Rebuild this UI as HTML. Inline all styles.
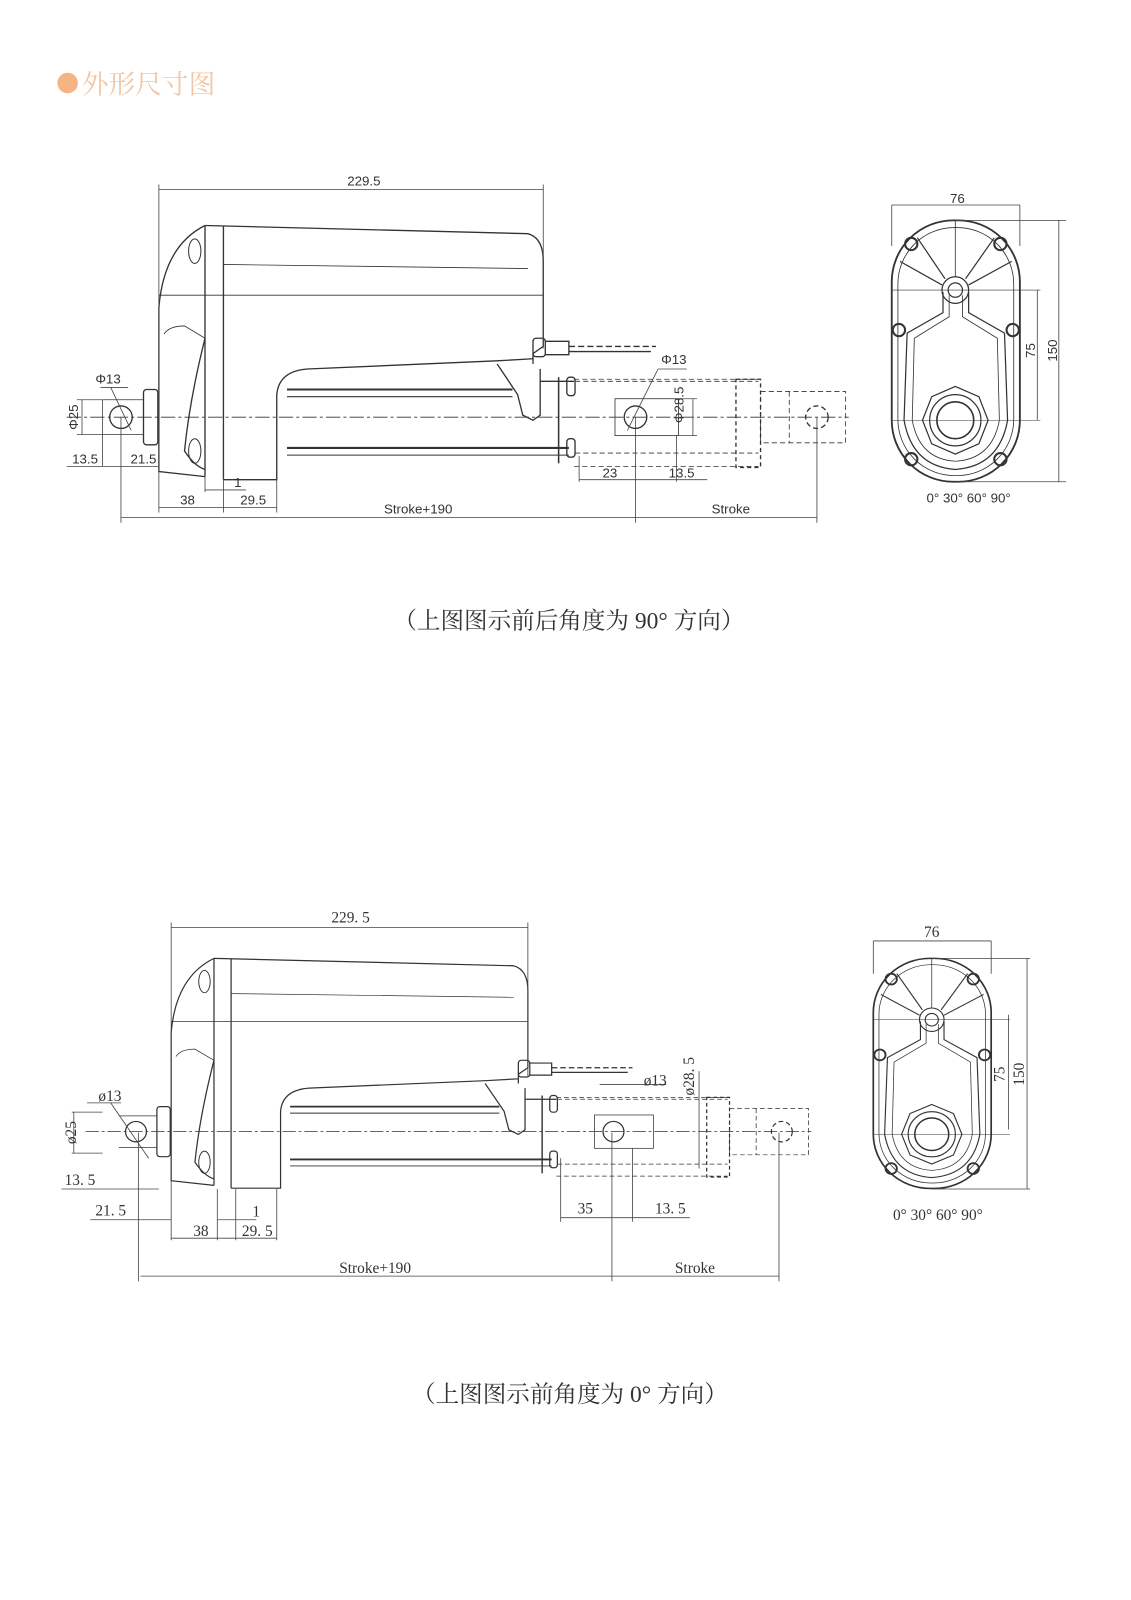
<!DOCTYPE html>
<html><head><meta charset="utf-8"><style>
html,body{margin:0;padding:0;background:#fff;}
body{width:1131px;height:1600px;overflow:hidden;position:relative;}
svg{position:absolute;left:0;top:0;}
.s{font-family:"Liberation Sans",sans-serif;font-size:13px;fill:#333;}
.r{font-family:"Liberation Serif",serif;font-size:15px;fill:#333;}
.cap{font-family:"Liberation Serif","Noto Serif CJK SC",serif;font-size:23px;fill:#333;}
</style></head><body>
<svg width="1131" height="1600" viewBox="0 0 1131 1600" xmlns="http://www.w3.org/2000/svg">
<defs>
<g id="side" fill="none" stroke="#333" stroke-width="1.3">
  <path d="M200,220 L515,228 Q530,232 530,255 L530,338 L520,345 L520,355" />
  <path d="M200,220 Q160,240 155,300 L155,460 L200,465" />
  <line x1="200" y1="220" x2="200" y2="465"/>
  <line x1="218" y1="220" x2="218" y2="468"/>
  <line x1="155" y1="288" x2="530" y2="288" stroke-width="0.8"/>
  <line x1="218" y1="258" x2="515" y2="262" stroke-width="0.8"/>
  <path d="M200,330 L180,318 Q165,318 160,326" stroke-width="0.8"/>
  <path d="M200,330 Q185,390 180,440 Q190,455 200,458"/>
  <ellipse cx="190" cy="245" rx="6" ry="12" stroke-width="1"/>
  <ellipse cx="190" cy="440" rx="6" ry="12" stroke-width="1"/>
  <path d="M218,468 L270,468 L270,385 Q272,362 300,360 L485,352 L520,350"/>
  <path d="M485,355 L505,385 L510,405 L520,410 L527,405 L527,360"/>
  <line x1="280" y1="380" x2="500" y2="380" stroke-width="2"/>
  <line x1="280" y1="387" x2="500" y2="387" stroke-width="1"/>
  <line x1="280" y1="437" x2="555" y2="437" stroke-width="2"/>
  <line x1="280" y1="444" x2="555" y2="444" stroke-width="1"/>
  <line x1="527" y1="372" x2="560" y2="372"/>
  <line x1="545" y1="368" x2="545" y2="452" stroke-width="1.5"/>
  <rect x="553" y="368" width="8" height="18" rx="3"/>
  <rect x="553" y="428" width="8" height="18" rx="3"/>
  <rect x="520" y="330" width="12" height="18" rx="3"/>
  <path d="M532,333 L555,333 L555,346 L532,346"/>
  <line x1="555" y1="338" x2="640" y2="338" stroke-dasharray="6,3"/>
  <line x1="555" y1="343" x2="635" y2="343"/>
  <rect x="140" y="380" width="14" height="54" rx="3"/>
  <line x1="100" y1="390" x2="140" y2="390" stroke-width="0.8"/>
  <line x1="100" y1="424" x2="140" y2="424" stroke-width="0.8"/>
  <circle cx="118" cy="407" r="11"/>
  <path d="M561,372 L740,372 M561,442 L740,442 M560,455 L740,455 M560,370 L740,370" stroke-dasharray="5,3" stroke-width="0.8"/>
  <rect x="600" y="389" width="62" height="36" stroke-width="0.8"/>
  <circle cx="620" cy="407" r="11"/>
  <rect x="718" y="370" width="24" height="86" stroke-dasharray="4,3"/>
  <rect x="742" y="382" width="83" height="50" stroke-dasharray="5,3" stroke-width="0.8"/>
  <line x1="770" y1="382" x2="770" y2="432" stroke-dasharray="5,3" stroke-width="0.8"/>
  <circle cx="797" cy="407" r="11" stroke-dasharray="5,3"/>
  <line x1="65" y1="407" x2="828" y2="407" stroke-dasharray="14,3,3,3" stroke-width="0.8"/>
</g>
<g id="end" fill="none" stroke="#333" stroke-width="1.2">
  <rect x="870" y="215" width="125" height="255" rx="60" ry="60" stroke-width="1.8"/>
  <rect x="876" y="222" width="113" height="242" rx="55" ry="55" stroke-width="0.8"/>
  <path d="M920,285 L920,305 L885,325 L882,410 Q890,455 932,458 Q975,455 983,410 L980,325 L945,305 L945,285" />
  <path d="M926,288 L926,309 L892,330 L890,410 Q897,448 932,450 Q968,448 975,410 L973,330 L939,309 L939,288" stroke-width="0.8"/>
  <circle cx="932" cy="283" r="13"/>
  <circle cx="932" cy="283" r="7"/>
  <line x1="932" y1="215" x2="932" y2="270" stroke-width="0.8"/>
  <line x1="922" y1="272" x2="895" y2="232"/><line x1="942" y1="272" x2="970" y2="232"/>
  <line x1="919" y1="278" x2="878" y2="255"/><line x1="945" y1="278" x2="987" y2="255"/>
  <circle cx="889" cy="238" r="6" stroke-width="2"/><circle cx="976" cy="238" r="6" stroke-width="2"/>
  <circle cx="877" cy="322" r="6" stroke-width="2"/><circle cx="988" cy="322" r="6" stroke-width="2"/>
  <circle cx="889" cy="448" r="6" stroke-width="2"/><circle cx="976" cy="448" r="6" stroke-width="2"/>
  <polygon points="932,377 955,387 964,410 955,433 932,443 909,433 900,410 909,387"/>
  <circle cx="932" cy="410" r="25"/>
  <circle cx="932" cy="410" r="18" stroke-width="1.6"/>
  <line x1="870" y1="283" x2="1015" y2="283" stroke-width="0.6"/>
  <line x1="870" y1="410" x2="1015" y2="410" stroke-width="0.6"/>
</g>
</defs>
<g transform="scale(1.025)">
<circle cx="66" cy="81" r="10" fill="#f6b483"/>
<text x="80" y="91" font-family="Liberation Serif,'Noto Serif CJK SC',serif" font-size="26" fill="#f2c6a4">外形尺寸图</text>

<use href="#side"/>
<use href="#end"/>
<g fill="none" stroke="#444" stroke-width="0.8">
  <line x1="155" y1="185" x2="530" y2="185"/>
  <line x1="155" y1="180" x2="155" y2="500"/>
  <line x1="530" y1="180" x2="530" y2="340"/>
  <line x1="100" y1="390" x2="100" y2="455"/>
  <line x1="118" y1="407" x2="118" y2="510"/>
  <line x1="218" y1="465" x2="218" y2="500"/>
  <line x1="200" y1="465" x2="200" y2="480"/>
  <line x1="270" y1="468" x2="270" y2="500"/>
  <line x1="65" y1="455" x2="155" y2="455"/>
  <line x1="155" y1="495" x2="270" y2="495"/>
  <line x1="200" y1="478" x2="240" y2="478"/>
  <line x1="118" y1="505" x2="797" y2="505"/>
  <line x1="620" y1="407" x2="620" y2="510"/>
  <line x1="797" y1="407" x2="797" y2="510"/>
  <line x1="565" y1="445" x2="565" y2="470"/>
  <line x1="660" y1="425" x2="660" y2="470"/>
  <line x1="565" y1="468" x2="690" y2="468"/>
  <line x1="75" y1="390" x2="100" y2="390"/><line x1="75" y1="424" x2="100" y2="424"/>
  <line x1="80" y1="390" x2="80" y2="424"/>
  <line x1="98" y1="378" x2="125" y2="378"/><line x1="108" y1="378" x2="128" y2="420"/>
  <line x1="642" y1="360" x2="670" y2="360"/><line x1="642" y1="360" x2="612" y2="420"/>
  <line x1="676" y1="389" x2="676" y2="425"/>
  <line x1="660" y1="389" x2="680" y2="389"/><line x1="660" y1="425" x2="680" y2="425"/>
  <line x1="870" y1="200" x2="995" y2="200"/>
  <line x1="870" y1="200" x2="870" y2="240"/><line x1="995" y1="200" x2="995" y2="240"/>
  <line x1="932" y1="215" x2="1040" y2="215"/><line x1="932" y1="470" x2="1040" y2="470"/>
  <line x1="1033" y1="215" x2="1033" y2="470"/>
  <line x1="1012" y1="283" x2="1012" y2="410"/>
</g>
<g class="s">
  <text x="355" y="181" text-anchor="middle">229.5</text>
  <text x="93" y="374">Φ13</text>
  <text x="76" y="407" transform="rotate(-90 76 407)" text-anchor="middle">Φ25</text>
  <text x="83" y="452" text-anchor="middle">13.5</text>
  <text x="140" y="452" text-anchor="middle">21.5</text>
  <text x="232" y="475" text-anchor="middle">1</text>
  <text x="183" y="492" text-anchor="middle">38</text>
  <text x="247" y="492" text-anchor="middle">29.5</text>
  <text x="408" y="501" text-anchor="middle">Stroke+190</text>
  <text x="713" y="501" text-anchor="middle">Stroke</text>
  <text x="595" y="466" text-anchor="middle">23</text>
  <text x="665" y="466" text-anchor="middle">13.5</text>
  <text x="645" y="355">Φ13</text>
  <text x="667" y="395" transform="rotate(-90 667 395)" text-anchor="middle">Φ28.5</text>
  <text x="934" y="198" text-anchor="middle">76</text>
  <text x="1010" y="342" transform="rotate(-90 1010 342)" text-anchor="middle">75</text>
  <text x="1031" y="342" transform="rotate(-90 1031 342)" text-anchor="middle">150</text>
  <text x="945" y="490" text-anchor="middle">0°  30°  60°  90°</text>
</g>
<text class="cap" x="555" y="613" text-anchor="middle">（上图图示前后角度为 90° 方向）</text>

<use href="#side" transform="translate(167,935) scale(0.928,0.904) translate(-155,-220)"/>
<use href="#end" transform="translate(852,935) scale(0.92,0.88) translate(-870,-215)"/>
<g fill="none" stroke="#444" stroke-width="0.8">
  <line x1="167" y1="905" x2="515" y2="905"/>
  <line x1="167" y1="900" x2="167" y2="1210"/>
  <line x1="515" y1="900" x2="515" y2="1050"/>
  <line x1="60" y1="1160" x2="155" y2="1160"/>
  <line x1="88" y1="1190" x2="167" y2="1190"/>
  <line x1="135" y1="1105" x2="135" y2="1250"/>
  <line x1="212" y1="1160" x2="212" y2="1210"/>
  <line x1="230" y1="1160" x2="230" y2="1210"/>
  <line x1="167" y1="1208" x2="270" y2="1208"/>
  <line x1="212" y1="1190" x2="250" y2="1190"/>
  <line x1="270" y1="1160" x2="270" y2="1210"/>
  <line x1="137" y1="1245" x2="760" y2="1245"/>
  <line x1="597" y1="1105" x2="597" y2="1250"/>
  <line x1="760" y1="1105" x2="760" y2="1250"/>
  <line x1="547" y1="1130" x2="547" y2="1192"/>
  <line x1="617" y1="1120" x2="617" y2="1192"/>
  <line x1="547" y1="1188" x2="673" y2="1188"/>
  <line x1="85" y1="1076" x2="118" y2="1076"/><line x1="108" y1="1076" x2="145" y2="1130"/>
  <line x1="70" y1="1085" x2="100" y2="1085"/><line x1="70" y1="1125" x2="100" y2="1125"/>
  <line x1="72" y1="1085" x2="72" y2="1125"/>
  <line x1="585" y1="1058" x2="650" y2="1058"/>
  <line x1="682" y1="1045" x2="682" y2="1140"/>
  <line x1="852" y1="918" x2="967" y2="918"/>
  <line x1="852" y1="918" x2="852" y2="950"/><line x1="967" y1="918" x2="967" y2="950"/>
  <line x1="909" y1="935" x2="1005" y2="935"/><line x1="909" y1="1160" x2="1005" y2="1160"/>
  <line x1="1002" y1="935" x2="1002" y2="1160"/>
  <line x1="984" y1="990" x2="984" y2="1102"/>
</g>
<g class="r">
  <text x="342" y="900" text-anchor="middle">229. 5</text>
  <text x="96" y="1074">ø13</text>
  <text x="74" y="1105" transform="rotate(-90 74 1105)" text-anchor="middle">ø25</text>
  <text x="78" y="1156" text-anchor="middle">13. 5</text>
  <text x="108" y="1186" text-anchor="middle">21. 5</text>
  <text x="250" y="1187" text-anchor="middle">1</text>
  <text x="196" y="1206" text-anchor="middle">38</text>
  <text x="251" y="1206" text-anchor="middle">29. 5</text>
  <text x="571" y="1184" text-anchor="middle">35</text>
  <text x="654" y="1184" text-anchor="middle">13. 5</text>
  <text x="366" y="1242" text-anchor="middle">Stroke+190</text>
  <text x="678" y="1242" text-anchor="middle">Stroke</text>
  <text x="628" y="1059">ø13</text>
  <text x="677" y="1050" transform="rotate(-90 677 1050)" text-anchor="middle">ø28. 5</text>
  <text x="909" y="914" text-anchor="middle">76</text>
  <text x="980" y="1048" transform="rotate(-90 980 1048)" text-anchor="middle">75</text>
  <text x="999" y="1048" transform="rotate(-90 999 1048)" text-anchor="middle">150</text>
  <text x="915" y="1190" text-anchor="middle">0°  30°  60°  90°</text>
</g>
<text class="cap" x="556" y="1368" text-anchor="middle">（上图图示前角度为 0° 方向）</text>
</g>
</svg>
</body></html>
